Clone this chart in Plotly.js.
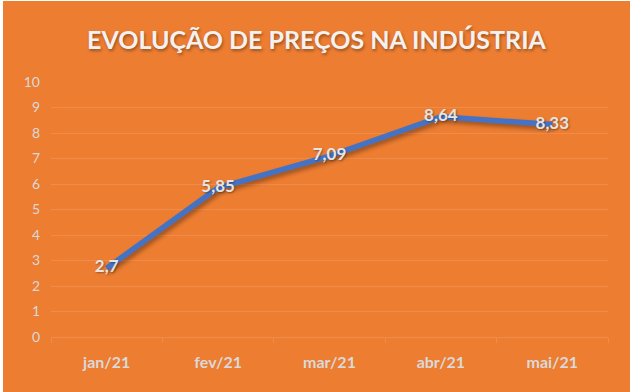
<!DOCTYPE html>
<html>
<head>
<meta charset="utf-8">
<script src="https://cdn.plot.ly/plotly-3.0.1.min.js"></script>
<style>
  html, body { margin: 0; padding: 0; background: #ffffff; }
  #chart { position: absolute; left: 3px; top: 1px; width: 627px; height: 391px; }
  .scatterlayer .js-line { filter: drop-shadow(2px 3px 2px rgba(0,0,0,0.35)); }
</style>
</head>
<body>
<div id="chart"></div>
<script>
const months = ['jan/21', 'fev/21', 'mar/21', 'abr/21', 'mai/21'];
const prices = [2.7, 5.85, 7.09, 8.64, 8.33];
const priceLabels = ['2,7', '5,85', '7,09', '8,64', '8,33'];
const yTicks = [0, 1, 2, 3, 4, 5, 6, 7, 8, 9, 10];

const gridColor = '#F08C4A';
const textColor = '#D9D9D9';
const fontFam = 'Lato, "Open Sans", sans-serif';

const trace = {
  x: months,
  y: prices,
  text: priceLabels,
  mode: 'lines+text',
  textposition: 'middle center',
  textfont: { family: fontFam, size: 17, color: '#E4E4E4', weight: 'bold', shadow: '1px 1px 2px rgba(0,0,0,0.35)' },
  line: { color: '#4472C4', width: 5.5 },
  hoverinfo: 'skip',
  cliponaxis: false
};

const layout = {
  width: 627,
  height: 391,
  paper_bgcolor: '#ED7D31',
  plot_bgcolor: '#ED7D31',
  margin: { l: 48, r: 22, t: 81, b: 55 },
  showlegend: false,
  title: {
    text: 'EVOLUÇÃO DE PREÇOS NA INDÚSTRIA',
    font: { family: fontFam, size: 25, color: '#F2F2F2', weight: 'bold', shadow: '1px 2px 3px rgba(0,0,0,0.35)' },
    x: 0.5, xanchor: 'center',
    y: 0.9, yanchor: 'middle', yref: 'container'
  },
  xaxis: {
    type: 'category',
    range: [-0.5, months.length - 0.5],
    showgrid: false,
    showline: true,
    linecolor: gridColor,
    linewidth: 1,
    ticks: 'outside',
    tickson: 'boundaries',
    ticklen: 5,
    tickcolor: gridColor,
    tickfont: { family: fontFam, size: 16, color: textColor, weight: 'bold' },
    ticklabelstandoff: 11,
    zeroline: false
  },
  yaxis: {
    range: [0, 10],
    tickvals: yTicks,
    ticktext: yTicks.map(String),
    showgrid: true,
    gridcolor: gridColor,
    gridwidth: 1,
    zeroline: false,
    showline: false,
    ticks: '',
    tickfont: { family: fontFam, size: 14, color: textColor },
    ticklabelstandoff: 10
  }
};

Plotly.newPlot('chart', [trace], layout, { displayModeBar: false, staticPlot: true });
</script>
</body>
</html>
